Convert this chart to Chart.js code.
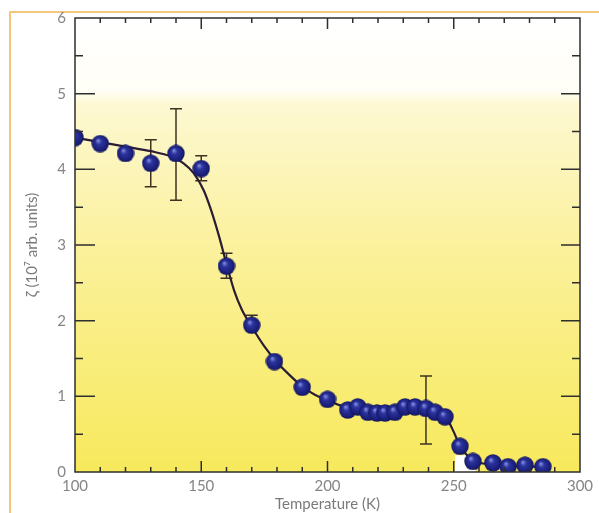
<!DOCTYPE html>
<html>
<head>
<meta charset="utf-8">
<script src="https://cdn.jsdelivr.net/npm/chart.js@4.4.1/dist/chart.umd.min.js"></script>
<style>
html, body { margin: 0; padding: 0; background: #fff; }
</style>
</head>
<body>
<canvas id="c" width="599" height="513"></canvas>
<script>
// measured points
const temps = [100, 110, 120, 130, 140, 150, 160, 170, 179, 190, 200,
    208, 212, 216, 219.6, 222.8, 226.7, 230.7, 234.7, 239, 242.6, 246.5,
    252.5, 257.6, 265.5, 271.5, 278.2, 285.3]
const zeta = [4.42, 4.34, 4.21, 4.08, 4.21, 4.01, 2.72, 1.94, 1.46, 1.12, 0.96,
    0.82, 0.86, 0.79, 0.78, 0.78, 0.79, 0.86, 0.86, 0.84, 0.79, 0.73,
    0.34, 0.14, 0.12, 0.07, 0.09, 0.07]

// error bars
const errTemps = [130, 140, 150, 160, 170, 239]
const errLow = [3.77, 3.59, 3.85, 2.56, 1.88, 0.37]
const errHigh = [4.39, 4.80, 4.18, 2.89, 2.07, 1.27]

// fitted curve
const fitTemps = [100, 110, 120, 130, 138, 143, 147, 151, 154, 157, 160, 163, 166, 170,
    175, 180, 185, 190, 195, 200, 205, 210, 215, 220, 225, 230, 235, 240, 244, 247,
    250, 252.5, 258, 265, 272, 285]
const fitZeta = [4.42, 4.36, 4.30, 4.24, 4.17, 4.08, 3.95, 3.72, 3.45, 3.12, 2.75, 2.40, 2.15, 1.92,
    1.66, 1.45, 1.28, 1.13, 1.02, 0.95, 0.88, 0.84, 0.82, 0.81, 0.81, 0.83, 0.85, 0.84, 0.80, 0.72,
    0.53, 0.34, 0.15, 0.10, 0.08, 0.07]

const xMajor = [100, 150, 200, 250, 300]
const yMajor = [0, 1, 2, 3, 4, 5, 6]

// shaded ball used as point style
function makeBall(r) {
    const cv = document.createElement('canvas')
    cv.width = cv.height = r * 2
    const g = cv.getContext('2d')
    const grad = g.createRadialGradient(r * 0.75, r * 0.65, 0.5, r, r, r)
    grad.addColorStop(0, '#7f88dc')
    grad.addColorStop(0.3, '#2c349e')
    grad.addColorStop(0.85, '#181c74')
    grad.addColorStop(1, '#0e1150')
    g.fillStyle = grad
    g.beginPath()
    g.arc(r, r, r - 0.3, 0, Math.PI * 2)
    g.fill()
    return cv
}
const ball = makeBall(9)

const background = {
    id: 'background',
    beforeDraw(chart) {
        const { ctx, chartArea: a, scales: { x, y } } = chart
        ctx.save()
        ctx.fillStyle = '#fff'
        ctx.fillRect(0, 0, chart.width, chart.height)
        // orange frame
        ctx.strokeStyle = '#f3c77e'
        ctx.lineWidth = 2
        ctx.beginPath()
        ctx.moveTo(10, chart.height)
        ctx.lineTo(10, 12)
        ctx.lineTo(chart.width, 12)
        ctx.stroke()
        const grad = ctx.createLinearGradient(0, a.top, 0, a.bottom)
        grad.addColorStop(0, '#ffffff')
        grad.addColorStop(0.16, '#fffef6')
        grad.addColorStop(0.19, '#fdf8d2')
        grad.addColorStop(0.5, '#fbf19d')
        grad.addColorStop(1, '#f7e95c')
        ctx.fillStyle = grad
        ctx.fillRect(a.left, a.top, a.right - a.left, a.bottom - a.top)
        // white notch near 250 K
        ctx.fillStyle = '#ffffff'
        const nx = x.getPixelForValue(250.5), nx2 = x.getPixelForValue(258.5)
        const ny = y.getPixelForValue(0.22)
        ctx.fillRect(nx, ny, nx2 - nx, a.bottom - ny)
        ctx.restore()
    }
}

const errorBars = {
    id: 'errorBars',
    beforeDatasetsDraw(chart) {
        const { ctx, scales: { x, y } } = chart
        ctx.save()
        ctx.strokeStyle = '#3d3322'
        ctx.lineWidth = 1.5
        errTemps.forEach(function (t, i) {
            const px = x.getPixelForValue(t)
            const lo = y.getPixelForValue(errLow[i])
            const hi = y.getPixelForValue(errHigh[i])
            ctx.beginPath()
            ctx.moveTo(px, lo)
            ctx.lineTo(px, hi)
            ctx.moveTo(px - 6, lo)
            ctx.lineTo(px + 6, lo)
            ctx.moveTo(px - 6, hi)
            ctx.lineTo(px + 6, hi)
            ctx.stroke()
        })
        ctx.restore()
    }
}

const frame = {
    id: 'frame',
    afterDraw(chart) {
        const { ctx, chartArea: a, scales: { x, y } } = chart
        ctx.save()
        ctx.strokeStyle = '#2e2e2e'
        ctx.lineWidth = 1.5
        ctx.strokeRect(a.left, a.top, a.right - a.left, a.bottom - a.top)
        ctx.beginPath()
        for (let t = 110; t < 300; t += 10) {
            const px = x.getPixelForValue(t)
            const major = t % 50 === 0
            ctx.moveTo(px, a.bottom)
            ctx.lineTo(px, a.bottom - (major ? 11 : 5))
            ctx.moveTo(px, a.top)
            ctx.lineTo(px, a.top + (major ? 11 : 5))
        }
        for (let v = 0.5; v < 6; v += 0.5) {
            const py = y.getPixelForValue(v)
            const major = v % 1 === 0
            ctx.moveTo(a.left, py)
            ctx.lineTo(a.left + (major ? 20 : 8), py)
            ctx.moveTo(a.right, py)
            ctx.lineTo(a.right - (major ? 19 : 8), py)
        }
        ctx.stroke()
        ctx.restore()
    }
}

const font = { family: 'Lato, "Open Sans", sans-serif', size: 15 }

new Chart(document.getElementById('c'), {
    type: 'scatter',
    data: {
        datasets: [{
            data: temps.map(function (t, i) { return { x: t, y: zeta[i] } }),
            pointStyle: ball,
            order: 1
        }, {
            data: fitTemps.map(function (t, i) { return { x: t, y: fitZeta[i] } }),
            showLine: true,
            borderColor: '#2a1d33',
            borderWidth: 2.2,
            pointRadius: 0,
            cubicInterpolationMode: 'monotone',
            order: 2
        }]
    },
    options: {
        responsive: false,
        animation: false,
        layout: { padding: { left: 23, top: 17, right: 19, bottom: 0 } },
        plugins: { legend: { display: false }, tooltip: { enabled: false } },
        scales: {
            x: {
                type: 'linear',
                min: 100,
                max: 300,
                afterBuildTicks(scale) { scale.ticks = xMajor.map(function (v) { return { value: v } }) },
                afterFit(scale) { scale.height = 41 },
                grid: { display: false, drawTicks: false },
                border: { display: false },
                ticks: { color: '#858585', font: font, padding: 5 },
                title: {
                    display: true,
                    text: 'Temperature (K)',
                    color: '#7a7a7a',
                    font: font,
                    padding: { top: 0, bottom: 0 }
                }
            },
            y: {
                min: 0,
                max: 6,
                afterBuildTicks(scale) { scale.ticks = yMajor.map(function (v) { return { value: v } }) },
                afterFit(scale) { scale.width = 52 },
                grid: { display: false, drawTicks: false },
                border: { display: false },
                ticks: { color: '#858585', font: font, padding: 9 },
                title: {
                    display: true,
                    text: 'ζ (10⁷ arb. units)',
                    color: '#7a7a7a',
                    font: font,
                    padding: { top: 0, bottom: 0 }
                }
            }
        }
    },
    plugins: [background, errorBars, frame]
})
</script>
</body>
</html>
